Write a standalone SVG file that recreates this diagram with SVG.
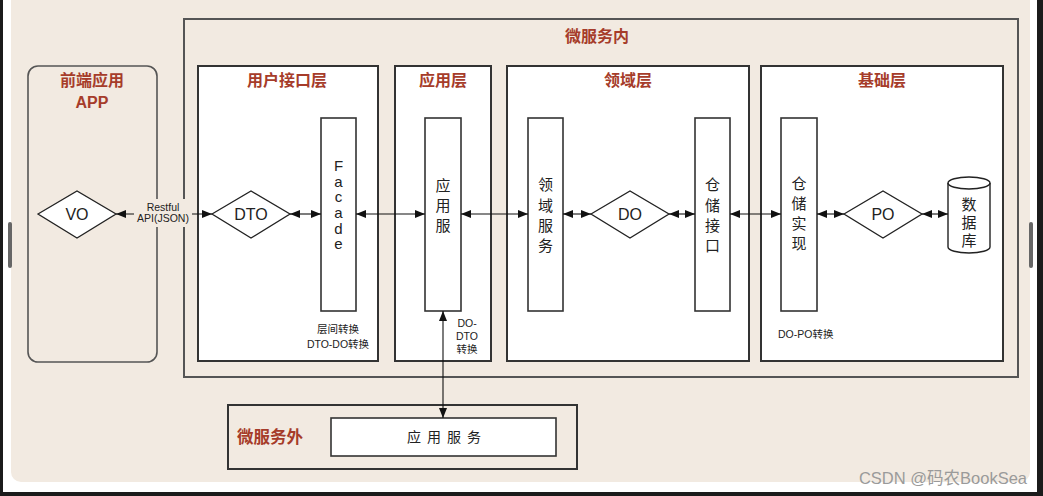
<svg xmlns="http://www.w3.org/2000/svg" width="1043" height="496" viewBox="0 0 1043 496">
<defs>
<style>
.t{font-family:"Liberation Sans","Noto Sans CJK SC",sans-serif;fill:#a63c2a;font-weight:bold;font-size:16px;text-anchor:middle}
.c{font-family:"Liberation Sans","Noto Sans CJK SC",sans-serif;fill:#222;font-size:15px;text-anchor:middle}
.s{font-family:"Liberation Sans","Noto Sans CJK SC",sans-serif;fill:#222;font-size:10.5px;text-anchor:middle}
.layer{fill:#fff;stroke:#333;stroke-width:2}
.col{fill:#fff;stroke:#333;stroke-width:1.6}
.dia{fill:#fff;stroke:#222;stroke-width:1.3}
.ln{stroke:#111;stroke-width:1.1;fill:none;marker-start:url(#ah);marker-end:url(#ah)}
</style>
<marker id="ah" viewBox="0 0 10 8" refX="10" refY="4" markerWidth="10" markerHeight="8" orient="auto-start-reverse" markerUnits="userSpaceOnUse"><path d="M0,0 L10,4 L0,8 z" fill="#111"/></marker>
</defs>
<rect x="0" y="0" width="1043" height="496" fill="#1b1b1b"/>
<rect x="3" y="0" width="1034" height="492" fill="#fff"/>
<rect x="11" y="-10" width="1019" height="492" rx="10" fill="#f2eae1"/>
<rect x="8" y="222" width="4" height="46" rx="2" fill="#666"/>
<rect x="1029" y="222" width="4" height="46" rx="2" fill="#666"/>

<g id="inner-service">
<rect x="184" y="19" width="834" height="358" fill="none" stroke="#555" stroke-width="2"/>
<text class="t" x="597" y="42">微服务内</text>
</g>
<g id="frontend">
<rect x="28" y="66" width="129" height="296" rx="10" fill="none" stroke="#555" stroke-width="1.6"/>
<text class="t" x="92" y="86">前端应用</text>
<text class="t" x="92" y="108">APP</text>
</g>
<g id="interface-layer">
<rect class="layer" x="198" y="66" width="180" height="295"/>
<text class="t" x="287" y="86">用户接口层</text>
</g>
<g id="app-layer">
<rect class="layer" x="395" y="66" width="96" height="295"/>
<text class="t" x="443" y="86">应用层</text>
</g>
<g id="domain-layer">
<rect class="layer" x="507" y="66" width="242" height="295"/>
<text class="t" x="628" y="86">领域层</text>
</g>
<g id="infra-layer">
<rect class="layer" x="761" y="66" width="242" height="295"/>
<text class="t" x="882" y="86">基础层</text>
</g>
<g id="outer-service">
<rect x="228" y="405" width="349" height="64" fill="none" stroke="#333" stroke-width="2"/>
<text class="t" x="270" y="443" style="font-size:16.5px">微服务外</text>
</g>
<g id="app-service-ext">
<rect x="331" y="418" width="225" height="38" fill="#fff" stroke="#333" stroke-width="1.6"/>
<text class="c" x="447" y="442" style="font-size:14px;letter-spacing:6px">应用服务</text>
</g>

<g id="vo">
<polygon class="dia" points="38,214 77,191 116,214 77,238"/>
<text class="c" x="77" y="220" style="font-size:16px">VO</text>
</g>
<g id="dto">
<polygon class="dia" points="212,214 251,191 290,214 251,238"/>
<text class="c" x="251" y="220" style="font-size:16px">DTO</text>
</g>
<g id="facade">
<rect class="col" x="321" y="118" width="35" height="193"/>
<text class="c" x="338.5" y="171">F</text>
<text class="c" x="338.5" y="187">a</text>
<text class="c" x="338.5" y="202">c</text>
<text class="c" x="338.5" y="218">a</text>
<text class="c" x="338.5" y="234">d</text>
<text class="c" x="338.5" y="249">e</text>
</g>
<g id="app-service">
<rect class="col" x="425" y="118" width="36" height="193"/>
<text class="c" x="443" y="191">应</text>
<text class="c" x="443" y="211">用</text>
<text class="c" x="443" y="231">服</text>
</g>
<g id="domain-service">
<rect class="col" x="528" y="118" width="35" height="193"/>
<text class="c" x="545.5" y="190">领</text>
<text class="c" x="545.5" y="211">域</text>
<text class="c" x="545.5" y="231">服</text>
<text class="c" x="545.5" y="251">务</text>
</g>
<g id="do">
<polygon class="dia" points="591,214 630,191 669,214 630,238"/>
<text class="c" x="630" y="220" style="font-size:16px">DO</text>
</g>
<g id="repo-interface">
<rect class="col" x="695" y="118" width="35" height="193"/>
<text class="c" x="712.5" y="190">仓</text>
<text class="c" x="712.5" y="211">储</text>
<text class="c" x="712.5" y="231">接</text>
<text class="c" x="712.5" y="251">口</text>
</g>
<g id="repo-impl">
<rect class="col" x="781" y="118" width="36" height="193"/>
<text class="c" x="799" y="189">仓</text>
<text class="c" x="799" y="209">储</text>
<text class="c" x="799" y="229">实</text>
<text class="c" x="799" y="249">现</text>
</g>
<g id="po">
<polygon class="dia" points="844,214 883,191 922,214 883,238"/>
<text class="c" x="883" y="220" style="font-size:16px">PO</text>
</g>
<g id="database">
<path d="M948,183 A21,6 0 0 1 990,183 V247 A21,6 0 0 1 948,247 Z" fill="#fff" stroke="#222" stroke-width="1.4"/>
<path d="M948,183 A21,6 0 0 0 990,183" fill="none" stroke="#222" stroke-width="1.4"/>
<text class="c" x="969" y="210">数</text>
<text class="c" x="969" y="228">据</text>
<text class="c" x="969" y="246">库</text>
</g>

<g id="connectors">
<line class="ln" x1="116" y1="214" x2="212" y2="214"/>
<rect x="134" y="199" width="58" height="28" fill="#f2eae1"/>
<text class="s" x="163" y="211">Restful</text>
<text class="s" x="163" y="222">API(JSON)</text>
<line class="ln" x1="290" y1="214" x2="321" y2="214"/>
<line class="ln" x1="356" y1="214" x2="425" y2="214"/>
<line class="ln" x1="461" y1="214" x2="528" y2="214"/>
<line class="ln" x1="563" y1="214" x2="591" y2="214"/>
<line class="ln" x1="669" y1="214" x2="695" y2="214"/>
<line class="ln" x1="730" y1="214" x2="781" y2="214"/>
<line class="ln" x1="817" y1="214" x2="844" y2="214"/>
<line class="ln" x1="922" y1="214" x2="948" y2="214"/>
<line class="ln" x1="443" y1="311" x2="443" y2="418"/>
</g>

<g id="notes">
<text class="s" x="338" y="333">层间转换</text>
<text class="s" x="338" y="348">DTO-DO转换</text>
<text class="s" x="467" y="327">DO-</text>
<text class="s" x="467" y="340">DTO</text>
<text class="s" x="467" y="353">转换</text>
<text class="s" x="778" y="338" style="text-anchor:start">DO-PO转换</text>
<text x="1027" y="484" style="font-family:'Liberation Sans','Noto Sans CJK SC',sans-serif;font-size:16.5px;text-anchor:end;fill:#9a9a9a">CSDN @码农BookSea</text>
</g>
</svg>
